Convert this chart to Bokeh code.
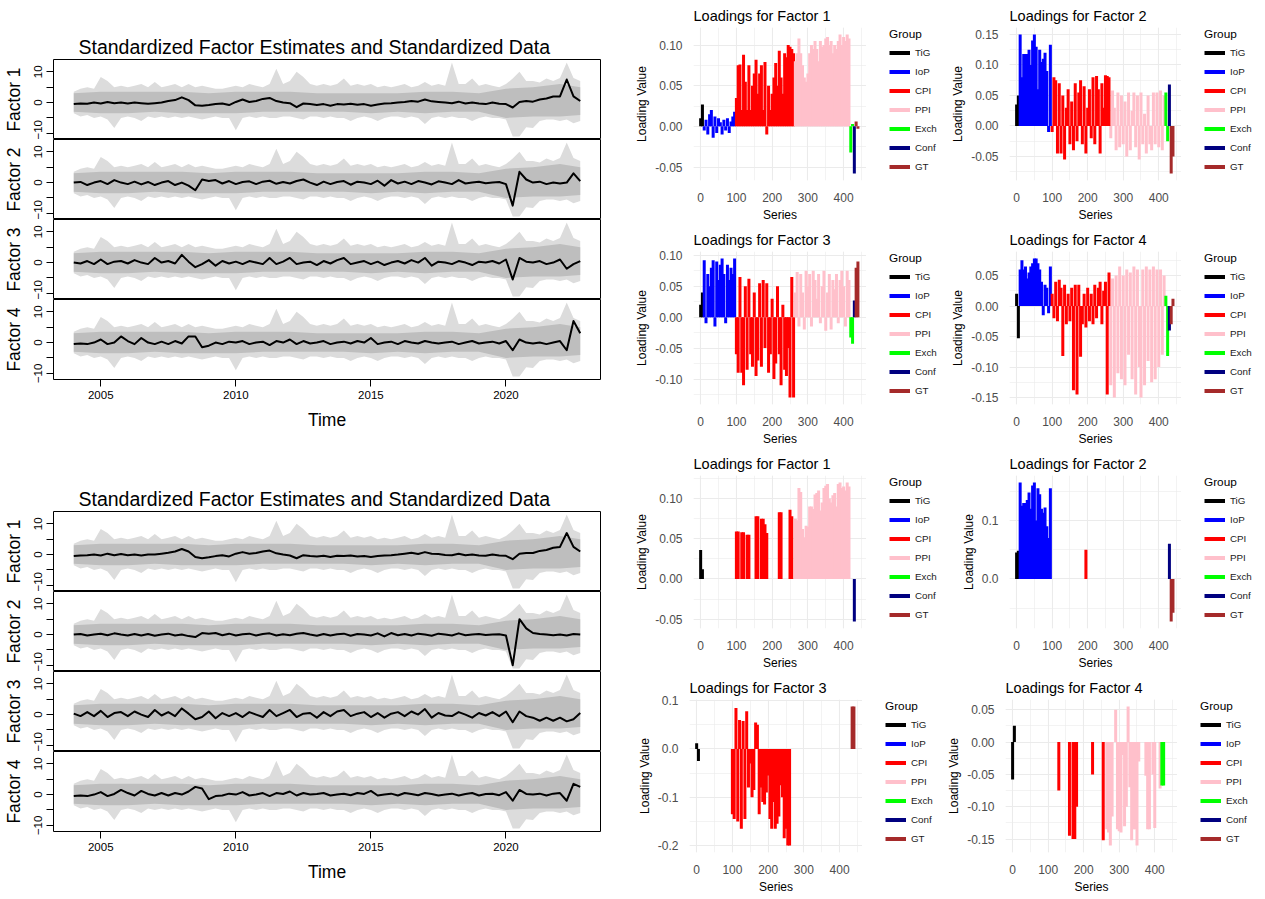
import numpy as np
from bokeh.plotting import figure
from bokeh.layouts import row, column
from bokeh.models import (Range1d, FixedTicker, SingleIntervalTicker, NumeralTickFormatter,
                          Legend, LegendItem, ColumnDataSource)
from bokeh.embed import file_html
from bokeh.resources import INLINE

FONT = "Liberation Sans"

# ---------------- time-series data (quarterly readings) ----------------
t_quarter = [2004.0 + i / 4 for i in range(76)]

gray_hi = [3.5, 4.5, 5.0, 4.5, 8.3, 7.0, 5.0, 5.5, 5.0, 5.5, 6.0, 5.0, 6.7, 5.0, 5.5, 6.0,
           5.0, 6.0, 5.0, 5.5, 5.0, 4.5, 4.5, 5.0, 5.5, 5.0, 6.0, 5.5, 5.0, 6.0, 11.0, 6.0,
           7.0, 10.0, 8.3, 6.0, 5.5, 6.0, 5.5, 6.0, 7.8, 5.5, 6.0, 5.5, 6.0, 5.0, 5.5, 5.0,
           5.5, 6.0, 5.0, 5.5, 6.7, 5.5, 6.0, 5.5, 13.0, 6.0, 6.0, 7.8, 5.5, 6.0, 5.5, 5.0,
           6.0, 7.8, 10.0, 7.0, 7.0, 6.5, 7.8, 7.0, 8.0, 13.0, 8.0, 7.0]
gray_lo = [-3.5, -4.5, -4.0, -5.0, -4.5, -5.5, -8.3, -5.0, -4.5, -5.0, -6.0, -4.5, -5.0, -4.5, -5.0, -4.5,
           -5.0, -4.5, -5.0, -5.5, -5.0, -4.5, -5.0, -5.0, -9.0, -5.0, -4.5, -5.0, -4.5, -5.0, -5.0, -4.5,
           -4.5, -5.0, -5.5, -4.5, -4.5, -5.0, -4.5, -5.0, -5.0, -6.0, -5.0, -4.5, -5.0, -6.0, -5.0, -4.5,
           -4.5, -5.0, -4.5, -5.0, -7.0, -5.0, -4.5, -5.0, -4.5, -5.0, -5.0, -6.0, -5.0, -4.5, -5.0, -5.0,
           -5.5, -11.0, -11.0, -8.0, -8.3, -6.0, -5.5, -5.5, -6.0, -5.5, -6.7, -6.0]
core_t = [2004, 2005, 2006, 2007, 2008, 2009, 2010, 2011, 2012, 2013, 2014, 2015, 2016, 2017,
          2018, 2019, 2020, 2021, 2022, 2022.75]
core_hi = [3.0, 3.5, 3.5, 3.5, 3.5, 3.0, 3.5, 3.5, 3.5, 3.0, 3.0, 3.0, 3.0, 3.5, 3.5, 3.0, 4.5, 5.0, 6.0, 5.0]
core_lo = [-3.0, -3.5, -3.5, -3.0, -3.5, -3.5, -3.5, -3.0, -3.0, -3.0, -3.0, -3.5, -3.0, -3.5, -3.0, -3.0,
           -5.0, -4.5, -4.5, -4.0]

top_F1 = [-0.5, -0.3, -0.4, 0, -0.3, 0.2, -0.2, 0, -0.3, 0, -0.2, -0.4, -0.2, 0, 0.5, 0.8,
          1.7, 0.8, -0.9, -1, -0.8, -0.5, -0.3, -0.8, 0.2, 1, 0.2, 0.5, 1.2, 1.5, 0.5, 0,
          -0.2, -1.5, -0.3, -0.5, -0.8, -0.5, -1, -0.5, -0.6, -0.4, -0.7, -0.5, -1, -0.6, -0.3, -0.2,
          0, 0.2, 0.5, 0.3, 1, 0.4, 0.2, 0, -0.2, 0.3, -0.3, 0, -0.3, -0.5, 0, -0.4,
          -0.5, -1.6, 0.2, 0.5, 0.3, 1, 1.3, 2, 2, 7.5, 2, 0.5]
top_F2 = [0, 0.2, -0.8, 0, 0.5, -0.5, 0.8, 0, -0.5, 0.3, -0.6, 0.2, -0.8, 0, 0.5, -0.8,
          0, -1, -2.5, 1, 0.5, 0.8, -0.3, 0.5, -0.5, 0.2, 0.4, -0.5, 0.3, 0.6, -0.4, 0.2,
          -0.3, 0.5, 1, 0, -0.8, 0.3, -0.5, 0.2, 0.5, -0.7, 0.3, 0, -0.5, 0.6, -1, 0.8,
          -0.3, 0.3, -0.5, 0.5, 0, -0.6, 0.4, 0, -0.5, 0.8, -0.3, 0, 0.3, -0.2, 0, 0.2,
          -0.5, -7.5, 3.5, 1, 0, 0.3, -0.5, 0, -0.3, 0, 3, 0.5]
top_F3 = [0, -0.3, 0.5, -0.5, 1, -0.5, 0.3, 0.5, -0.3, 0.8, 0, -0.5, 1.5, 0, 0.5, -0.3,
          2.5, 0.3, -1.5, -0.5, 0.8, -1, 0.5, -0.3, 0.3, -0.5, 0.5, 0, -0.5, 1.5, -0.5, 0.3,
          1.5, -0.5, 0, 0.3, -0.8, 0.5, -0.3, 0.8, 1.5, -0.5, 0, 0.5, -0.5, 0.3, -0.8, 0,
          0.5, -0.3, 0.8, 0, 1.5, -1, 0.3, 0, -0.5, 0.5, 0, -0.8, 0.3, 0, 0.5, -0.3,
          1, -5.5, 1.5, 0.3, 0, 0.5, -0.5, 0, 1, -2, -0.5, 0.5]
top_F4 = [-0.5, -0.3, -0.5, 0, 1, -0.5, 0, 2, 0.5, -0.5, 1.5, 0, -0.5, 0.3, -0.5, 0.5,
          -0.3, 2, 2, -1.5, -1, 0, -0.5, 0.3, 0, 0.5, -0.5, 0, 0.3, -0.8, 0.5, 0,
          1, -0.5, 0.5, -0.3, 0, 0.5, -0.5, 0, 0.3, -0.3, 0.5, 0, 1.5, -0.5, 0, 0.3,
          -0.5, 0.5, 0, -0.3, 0.5, 0, -0.3, 0, 0.3, -0.5, 0, 0.5, -0.3, 0, 0.3, -0.3,
          0.5, -2.5, 1, 0, -0.3, 0, -0.5, 0, 0.5, -2.5, 7, 3]

bot_F1 = [-0.5, -0.3, -0.2, 0, -0.3, 0.3, -0.2, 0.2, -0.2, 0, -0.3, 0, 0, 0.3, 0.6, 1.0,
          1.8, 1.0, -0.8, -1.2, -0.9, -0.5, -0.2, -0.6, 0.3, 0.8, 0.3, 0.5, 1.0, 1.3, 0.4, 0,
          -0.3, -1.2, -0.2, -0.5, -0.6, -0.4, -0.8, -0.4, -0.5, -0.3, -0.6, -0.5, -0.8, -0.5, -0.3, -0.2,
          0, 0.3, 0.6, 0.2, 0.8, 0.3, 0.2, -0.1, -0.2, 0.3, -0.2, 0, -0.3, -0.4, 0, -0.3,
          -0.4, -1.5, 0.3, 0.5, 0.5, 1.2, 1.5, 2.2, 2.5, 7.0, 2.5, 1.0]
bot_F2 = [0, 0.2, -0.3, 0, 0.3, -0.2, 0.4, 0, -0.3, 0.2, -0.3, 0.2, -0.4, 0, 0.3, -0.3,
          0, -0.5, -0.8, 0.5, 0.3, 0.5, -0.2, 0.3, -0.3, 0.1, 0.3, -0.3, 0.2, 0.4, -0.3, 0.1,
          -0.2, 0.3, 0.5, 0, -0.4, 0.2, -0.3, 0.1, 0.3, -0.4, 0.2, 0, -0.3, 0.4, -0.6, 0.5,
          -0.2, 0.2, -0.3, 0.3, 0, -0.4, 0.3, 0, -0.3, 0.4, -0.2, 0, 0.2, -0.1, 0, 0.1,
          -0.3, -10.0, 5.0, 2.0, 0.5, 0.2, 0, -0.2, 0, -0.3, 0.2, 0]
bot_F3 = [0.3, -0.5, 0.8, -0.5, 1.2, -0.8, 0.5, 0.8, -0.5, 1.0, 0, -0.8, 1.5, -0.3, 0.8, -0.5,
          2.0, 0.3, -1.5, -0.8, 1.0, -1.2, 0.5, -0.5, 0.5, -0.8, 0.8, 0, -0.8, 1.5, -0.5, 0.5,
          1.5, -0.8, 0.3, 0.5, -1.0, 0.8, -0.5, 1.0, 1.5, -0.5, 0.3, 0.8, -0.8, 0.5, -1.0, 0.3,
          0.8, -0.5, 1.0, 0, 1.8, -1.0, 0.5, -0.3, -0.5, 0.8, 0, -1.0, 0.5, -0.3, 0.8, -0.5,
          1.0, -2.5, 1.0, -0.5, -1.0, -2.0, -1.0, -2.0, -1.0, -2.2, -1.5, 0.5]
bot_F4 = [-0.5, -0.3, -0.5, 0, 0.8, -0.5, 0.2, 1.5, 0.5, -0.3, 1.2, 0.2, -0.3, 0.5, -0.3, 0.5,
          0, 1.0, 2.5, 2.0, -1.5, -0.5, -0.3, 0.3, 0, 0.8, -0.3, 0, 0.5, -0.5, 0.5, 0.2,
          1.0, -0.3, 0.5, 0, 0.2, 0.5, -0.3, 0, 0.3, -0.2, 0.5, 0.2, 1.2, -0.3, 0, 0.3,
          -0.3, 0.5, 0.2, -0.2, 0.5, 0.2, -0.3, 0, 0.3, -0.3, 0.2, 0.5, -0.3, 0.2, 0.3, -0.2,
          0.8, -2.0, 1.5, 0.2, 0, 0.3, -0.3, 0.3, 0.5, -2.0, 3.5, 2.5]

# ---------------- loadings data ----------------
GROUPS = ["TiG", "IoP", "CPI", "PPI", "Exch", "Conf", "GT"]
GROUP_COLORS = ["#000000", "#0000FF", "#FF0000", "#FFC0CB", "#00FF00", "#000080", "#A52A2A"]
GROUP_SIZES = [2, 18, 33, 31, 2, 1, 2]
SERIES = list(range(0, 445, 5))

load_top_f1 = [0.010, 0.027,
               -0.005, 0.008, -0.010, 0.015, 0.020, -0.014, 0.012, -0.008, 0.010, 0.005, -0.010, 0.008,
               -0.005, 0.010, -0.008, 0.006, 0.012, 0.018,
               0.035, 0.075, 0.076, 0.020, 0.088, 0.055, 0.020, 0.075, 0.020, 0.050, 0.065, 0.082, 0.040,
               0.065, 0.075, 0.020, 0.079, -0.010, 0.050, 0.020, 0.040, 0.060, 0.078, 0.050, 0.093, 0.060,
               0.040, 0.090, 0.085, 0.100, 0.098, 0.095, 0.090,
               0.080, 0.090, 0.108, 0.090, 0.075, 0.060, 0.055, 0.065, 0.090, 0.100, 0.095, 0.105, 0.095,
               0.080, 0.105, 0.098, 0.100, 0.108, 0.110, 0.100, 0.105, 0.090, 0.100, 0.095, 0.105, 0.113,
               0.100, 0.110, 0.105, 0.113, 0.108,
               -0.032, 0.003, -0.058, 0.006, -0.003]
load_top_f2 = [0.035, 0.050,
               0.150, 0.080, 0.118, 0.118, 0.118, 0.125, 0.100, 0.140, 0.150, 0.130, 0.060, 0.125,
               0.105, 0.110, 0.120, 0.090, -0.010, 0.133,
               -0.010, 0.080, 0.075, -0.045, 0.070, -0.045, 0.050, -0.055, 0.030, 0.060, -0.030, 0.040,
               -0.040, 0.070, -0.025, 0.055, 0.075, -0.030, 0.065, -0.045, 0.030, 0.060, -0.020, 0.080,
               -0.030, 0.082, 0.060, -0.045, 0.070, 0.030, 0.083, 0.082, 0.080,
               -0.020, 0.058, 0.030, -0.040, 0.055, -0.035, 0.050, -0.030, 0.040, -0.050, 0.055, -0.040,
               0.025, 0.055, -0.035, 0.050, -0.055, 0.055, -0.030, 0.020, -0.045, 0.050, -0.030, -0.040,
               0.055, -0.030, 0.055, -0.035, 0.058, -0.040, 0.050,
               0.055, -0.025, 0.068, -0.078, -0.050]
load_top_f3 = [0.020, 0.040,
               0.092, -0.010, 0.070, 0.050, 0.080, 0.092, -0.015, 0.090, 0.060, 0.085, 0.095, 0.070,
               -0.010, 0.085, 0.060, 0.080, 0.070, 0.095,
               -0.060, -0.090, 0.065, -0.090, -0.110, 0.050, -0.085, 0.062, -0.060, -0.080, 0.040, -0.095,
               -0.070, 0.055, -0.080, 0.060, -0.050, 0.055, -0.090, -0.060, 0.030, -0.100, -0.075, 0.050,
               -0.060, -0.110, 0.020, -0.085, -0.095, -0.050, -0.130, 0.065, -0.130,
               0.040, 0.073, -0.015, 0.070, 0.040, -0.020, 0.075, 0.050, 0.070, -0.015, 0.075, 0.060,
               0.030, 0.070, -0.010, 0.050, 0.075, -0.022, 0.040, 0.070, -0.020, 0.060, 0.045, 0.070,
               -0.010, 0.060, 0.075, 0.050, -0.015, 0.075, 0.060,
               -0.033, -0.043, 0.027, 0.080, 0.090]
load_top_f4 = [0.020, -0.053,
               0.060, 0.075, 0.060, 0.065, 0.045, 0.055, 0.065, 0.070, 0.078, 0.078, 0.070, 0.060,
               0.040, -0.015, 0.035, 0.030, -0.012, 0.065,
               0.020, -0.020, 0.040, -0.025, 0.043, 0.030, -0.082, 0.035, -0.030, 0.020, -0.025, 0.030,
               -0.138, 0.035, -0.145, 0.035, -0.083, -0.030, 0.020, -0.035, 0.030, -0.025, 0.020, -0.030,
               0.035, -0.020, 0.030, 0.040, -0.030, 0.025, 0.040, -0.145, 0.055,
               -0.130, 0.045, -0.150, 0.050, -0.110, 0.065, -0.120, 0.050, -0.130, 0.060, -0.080, 0.055,
               -0.120, 0.065, -0.145, 0.060, -0.100, -0.150, 0.060, -0.130, 0.065, -0.090, 0.060, -0.125,
               0.065, -0.120, 0.060, -0.100, 0.060, -0.080, 0.050,
               0.017, -0.082, -0.040, -0.030, 0.012]
load_bot_f1 = [0.036, 0.012,
               0, 0, 0, 0, 0, 0, 0, 0, 0, 0, 0, 0, 0, 0, 0, 0, 0, 0,
               0.059, 0.059, 0, 0.058, 0.058, 0, 0.055, 0.055, 0, 0, 0, 0.078, 0.078, 0, 0.075, 0.075,
               0.068, 0.057, 0, 0, 0, 0, 0, 0, 0.083, 0.083, 0, 0, 0, 0, 0.086, 0.078, 0,
               0.075, 0.073, 0.113, 0.108, 0.062, 0.052, 0.066, 0.065, 0.090, 0.090, 0.087, 0.105, 0.107,
               0.110, 0.085, 0.095, 0.113, 0.116, 0.118, 0.100, 0.095, 0.104, 0.107, 0.090, 0.118, 0.120,
               0.113, 0.115, 0.110, 0.120, 0.115,
               0, 0, -0.053, 0, 0]
load_bot_f2 = [0.045, 0.048,
               0.165, 0.125, 0.130, 0.130, 0.135, 0.148, 0.120, 0.160, 0.165, 0.100, 0.155, 0.145,
               0.120, 0.113, 0.122, 0.090, 0.070, 0.155,
               0, 0, 0, 0, 0, 0, 0, 0, 0, 0, 0, 0, 0, 0, 0, 0, 0, 0, 0, 0.050, 0, 0, 0, 0, 0, 0,
               0, 0, 0, 0, 0, 0, 0,
               0, 0, 0, 0, 0, 0, 0, 0, 0, 0, 0, 0, 0, 0, 0, 0, 0, 0, 0, 0, 0, 0, 0, 0, 0, 0,
               0, 0, 0, 0, 0,
               0, 0, 0.060, -0.073, -0.058]
load_bot_f3 = [0.012, -0.025,
               0, 0, 0, 0, 0, 0, 0, 0, 0, 0, 0, 0, 0, 0, 0, 0, 0, 0,
               -0.135, -0.145, 0.085, -0.150, 0.060, -0.165, 0.058, -0.145, 0.078, -0.080, -0.030, -0.100,
               -0.085, 0.055, 0.050, -0.135, -0.080, -0.110, -0.115, -0.090, -0.055, -0.145, -0.165, -0.110,
               -0.165, -0.155, -0.140, -0.075, -0.100, -0.185, -0.165, -0.200, -0.200,
               0, 0, 0, 0, 0, 0, 0, 0, 0, 0, 0, 0, 0, 0, 0, 0, 0, 0, 0, 0, 0, 0, 0, 0, 0, 0,
               0, 0, 0, 0, 0,
               0, 0, 0, 0.088, 0.088]
load_bot_f4 = [-0.058, 0.025,
               0, 0, 0, 0, 0, 0, 0, 0, 0, 0, 0, 0, 0, 0, 0, 0, 0, 0,
               0, 0, 0, 0, 0, 0, -0.075, 0, 0, 0, 0, 0, -0.145, 0, -0.150, -0.150, -0.100, 0, 0, 0,
               0, 0, 0, 0, 0, -0.050, 0, 0, 0, 0, 0, -0.152, 0,
               -0.135, -0.140, -0.160, -0.115, 0, 0.050, -0.135, -0.138, -0.140, -0.020, -0.130, -0.100,
               0.055, -0.070, -0.152, -0.135, -0.135, -0.160, -0.030, 0, 0, 0, -0.052, -0.135, -0.135,
               0, -0.050, -0.133, 0, 0, -0.072,
               -0.067, -0.067, 0, 0, 0]

TS_TITLE = "Standardized Factor Estimates and Standardized Data"


def ts_block(factors, top_border, bottom_border):
    xr = Range1d(2003.25, 2023.5)
    figs = []
    for k, fac in enumerate(factors):
        first, last = k == 0, k == len(factors) - 1
        p = figure(frame_width=547, frame_height=80, x_range=xr, y_range=Range1d(-12, 14),
                   output_backend="svg", toolbar_location=None,
                   title=TS_TITLE if first else None,
                   x_axis_location="below" if last else None,
                   min_border_left=53, min_border_right=32,
                   min_border_top=top_border if first else 0,
                   min_border_bottom=bottom_border if last else 0,
                   background_fill_color="white", border_fill_color="white",
                   outline_line_color="black", outline_line_width=1)
        p.grid.visible = False
        p.varea(x=t_quarter, y1=gray_lo, y2=gray_hi, fill_color="#dcdcdc")
        p.varea(x=core_t, y1=core_lo, y2=core_hi, fill_color="#bebebe")
        p.line(t_quarter, fac, line_color="black", line_width=2, line_join="round")
        ya = p.yaxis[0]
        ya.ticker = FixedTicker(ticks=[-10, 0, 10], minor_ticks=[-5, 5])
        ya.major_label_orientation = "vertical"
        ya.axis_label = f"Factor {k + 1}"
        ya.axis_label_text_font = FONT
        ya.axis_label_text_font_size = "17.5px"
        ya.axis_label_text_font_style = "normal"
        ya.axis_label_text_color = "black"
        ya.axis_label_standoff = 8
        ya.major_label_text_font = FONT
        ya.major_label_text_font_size = "11.5px"
        ya.major_label_text_color = "black"
        ya.major_label_standoff = 4
        ya.axis_line_color = None
        ya.major_tick_out = 7
        ya.major_tick_in = 0
        ya.minor_tick_out = 7
        ya.minor_tick_in = 0
        ya.major_tick_line_color = "black"
        ya.minor_tick_line_color = "black"
        if first:
            p.title.text_font = FONT
            p.title.text_font_size = "19.5px"
            p.title.text_font_style = "normal"
            p.title.text_color = "black"
            p.title.align = "left"
            p.title.offset = 25
            p.title.standoff = 4
        if last:
            xa = p.xaxis[0]
            xa.ticker = FixedTicker(ticks=[2005, 2010, 2015, 2020])
            xa.axis_label = "Time"
            xa.axis_label_text_font = FONT
            xa.axis_label_text_font_size = "17.5px"
            xa.axis_label_text_font_style = "normal"
            xa.axis_label_text_color = "black"
            xa.axis_label_standoff = 8
            xa.major_label_text_font = FONT
            xa.major_label_text_font_size = "11.5px"
            xa.major_label_text_color = "black"
            xa.major_label_standoff = 4
            xa.axis_line_color = None
            xa.major_tick_out = 7
            xa.major_tick_in = 0
            xa.major_tick_line_color = "black"
        figs.append(p)
    return column(*figs)


def loadings_cell(title, vals, step, fmt, bl, br, bt, fh, bb):
    fw = 173 if bl == 57 else 172
    lo, hi = min(min(vals), 0), max(max(vals), 0)
    span = hi - lo
    H = bt + fh + bb
    p = figure(frame_width=fw, frame_height=fh, x_range=Range1d(-20, 464),
               y_range=Range1d(lo - 0.05 * span, hi + 0.05 * span),
               output_backend="svg", toolbar_location=None, title=title,
               min_border_left=bl, min_border_right=0, min_border_top=bt, min_border_bottom=bb,
               background_fill_color="white", border_fill_color="white", outline_line_color=None)
    # narrow companion figure that only carries the legend (its glyphs lie outside its range)
    lf = figure(width=br, height=H, x_range=Range1d(1000, 1001), y_range=Range1d(0, 1),
                output_backend="svg", toolbar_location=None, title=None,
                x_axis_location=None, y_axis_location=None,
                min_border_left=0, min_border_right=0, min_border_top=0, min_border_bottom=0,
                background_fill_color="white", border_fill_color="white", outline_line_color=None)
    lf.grid.visible = False
    items = []
    start = 0
    for g, n, c in zip(GROUPS, GROUP_SIZES, GROUP_COLORS):
        src = ColumnDataSource(dict(x=SERIES[start:start + n], y=vals[start:start + n], z=[0] * n))
        start += n
        p.segment(x0="x", y0="z", x1="x", y1="y", source=src, line_color=c,
                  line_width=3, line_cap="butt")
        key = lf.segment(x0="x", y0="z", x1="x", y1="y", source=src, line_color=c,
                         line_width=4, line_cap="butt")
        items.append(LegendItem(label=g, renderers=[key]))
    p.xaxis.ticker = SingleIntervalTicker(interval=100, num_minor_ticks=2)
    p.yaxis.ticker = SingleIntervalTicker(interval=step, num_minor_ticks=2)
    p.yaxis.formatter = NumeralTickFormatter(format=fmt)
    p.grid.grid_line_color = "#ebebeb"
    p.grid.grid_line_width = 1.1
    p.grid.minor_grid_line_color = "#ebebeb"
    p.grid.minor_grid_line_width = 0.6
    for ax in (p.xaxis[0], p.yaxis[0]):
        ax.axis_line_color = None
        ax.major_tick_line_color = None
        ax.minor_tick_line_color = None
        ax.major_label_text_font = FONT
        ax.major_label_text_font_size = "12px"
        ax.major_label_text_color = "#4d4d4d"
        ax.axis_label_text_font = FONT
        ax.axis_label_text_font_size = "12px"
        ax.axis_label_text_font_style = "normal"
        ax.axis_label_text_color = "black"
        ax.major_label_standoff = 6
        ax.axis_label_standoff = 3
    p.xaxis.axis_label = "Series"
    p.yaxis.axis_label = "Loading Value"
    p.yaxis.major_label_standoff = 5
    p.title.text_font = FONT
    p.title.text_font_size = "14.5px"
    p.title.text_font_style = "normal"
    p.title.text_color = "black"
    p.title.align = "left"
    p.title.standoff = 8
    legend = Legend(items=items, location=(23, H - 219), title="Group",
                    title_text_font=FONT, title_text_font_size="11.8px", title_text_font_style="normal",
                    title_text_color="black", title_standoff=3,
                    label_text_font=FONT, label_text_font_size="9.8px", label_text_color="#1a1a1a",
                    glyph_width=21, glyph_height=17, label_height=17, spacing=2, label_standoff=5,
                    padding=0, margin=0, border_line_color=None, background_fill_alpha=0)
    lf.add_layout(legend)
    return row(p, lf)


left = column(ts_block([top_F1, top_F2, top_F3, top_F4], 59, 70),
              ts_block([bot_F1, bot_F2, bot_F3, bot_F4], 62, 60))

ROWS = [  # (top border, frame height, bottom border)
    (27, 153, 44), (27, 153, 44), (27, 153, 44), (27, 153, 44)]
PANELS = [
    ("Loadings for Factor 1", load_top_f1, 0.05, "0.00", "Loadings for Factor 2", load_top_f2, 0.05, "0.00"),
    ("Loadings for Factor 3", load_top_f3, 0.05, "0.00", "Loadings for Factor 4", load_top_f4, 0.05, "0.00"),
    ("Loadings for Factor 1", load_bot_f1, 0.05, "0.00", "Loadings for Factor 2", load_bot_f2, 0.1, "0.0"),
    ("Loadings for Factor 3", load_bot_f3, 0.1, "0.0", "Loadings for Factor 4", load_bot_f4, 0.05, "0.00"),
]
right_rows = []
for (bt, fh, bb), (t1, v1, s1, f1, t2, v2, s2, f2) in zip(ROWS, PANELS):
    c1 = loadings_cell(t1, v1, s1, f1, 57, 82, bt, fh, bb)
    c2 = loadings_cell(t2, v2, s2, f2, 61, 79, bt, fh, bb)
    right_rows.append(row(c1, c2))

layout = row(left, column(*right_rows))
open("out.html", "w").write(file_html(layout, INLINE))
